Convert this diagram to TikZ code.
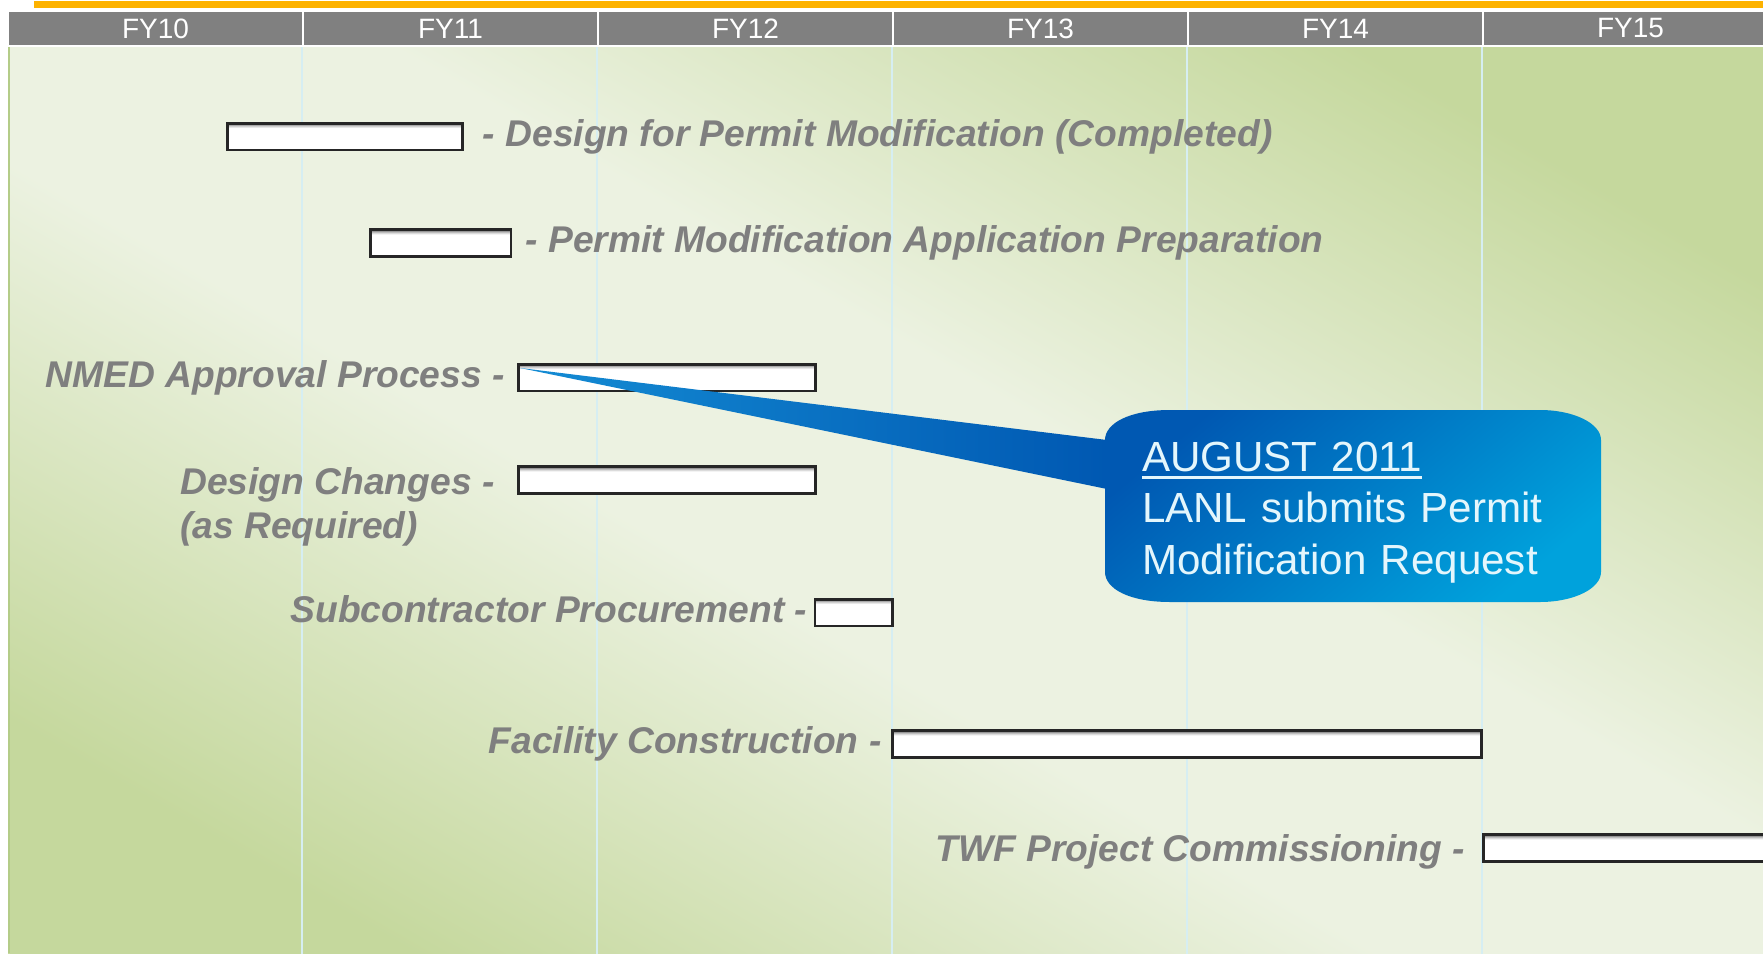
\documentclass[tikz,border=0pt]{standalone}
\usepackage{fontspec}
\setmainfont{Liberation Sans}
\usepackage{tikz}
\usetikzlibrary{positioning,calc}

\definecolor{hdrgray}{RGB}{128,128,128}
\definecolor{labgray}{RGB}{127,127,127}
\definecolor{bggreen}{RGB}{197,216,157}
\definecolor{bglight}{RGB}{236,242,225}
\definecolor{gridcyan}{RGB}{214,238,242}
\definecolor{edgegreen}{RGB}{180,204,136}
\definecolor{topbar}{RGB}{253,178,0}
\definecolor{notedark}{RGB}{0,88,178}
\definecolor{notelight}{RGB}{0,162,220}
\definecolor{tailtip}{RGB}{20,140,212}
\definecolor{notetext}{RGB}{228,246,252}

\pgfdeclareverticalshading{bgband}{100bp}{color(0bp)=(bggreen); color(24bp)=(bggreen);
  color(44bp)=(bglight); color(56bp)=(bglight); color(76bp)=(bggreen); color(100bp)=(bggreen)}
\pgfdeclareverticalshading{barfill}{100bp}{color(0bp)=(white); color(66bp)=(white);
  color(70bp)=(black!20); color(75bp)=(black!60); color(100bp)=(black!60)}

\newcommand{\thickul}[1]{\setbox0\hbox{#1}\rlap{\rule[-6pt]{\wd0}{2.5pt}}\box0}

\tikzset{
  hdrcell/.style={fill=hdrgray, draw=white, line width=1.5pt, text=white,
    font=\fontsize{21}{25}\selectfont, minimum width=221.25pt, minimum height=26.25pt, inner sep=0pt},
  gridline/.style={gridcyan, line width=1.5pt},
  taskbar/.style={shade, shading=barfill, draw=black!85, line width=1.9pt, minimum height=19.9pt, inner sep=0pt},
  tasklbl/.style={text=labgray, font=\bfseries\itshape\fontsize{27.9}{33.5}\selectfont, inner sep=0pt},
  notebody/.style={top color=notedark, bottom color=notelight, shading angle=40},
  notetxt/.style={text width=316.5pt, align=left, inner sep=0pt,
    text=notetext, font=\fontsize{31.6}{38.8}\selectfont}
}

\begin{document}
\begin{tikzpicture}[x=0.75pt,y=0.75pt,yscale=-1,xscale=1]
    \useasboundingbox (0,0) rectangle (1763,953);
    \fill [white] (0,0) rectangle (1763,953);

    %Background
    \shade [shading=bgband, shading angle=-30] (8,47) rectangle (1763,953);
    \draw [edgegreen, line width=1.5pt] (9,47) -- (9,953);
    \fill [topbar] (34,1) rectangle (1763,8);

    %Year header
    \foreach \yr [count=\i from 0] in {10,...,15}
        \node (fy\yr) [hdrcell] at (155.5+295*\i,28.5) {FY\yr};
    \foreach \yr in {11,...,15}
        \draw [gridline] (fy\yr.south west) -- ++(0,907);

    %Task bars
    \node (dsgn) [taskbar, minimum width=176.6pt] at (345,136.5) {};
    \node (prep) [taskbar, minimum width=105.4pt] at (440.5,243) {};
    \node (nmed) [taskbar, minimum width=223.1pt] at (667,377.5) {};
    \node (chng) [taskbar, minimum width=223.1pt] at (667,480) {};
    \node (subc) [taskbar, minimum width=58.1pt] at (853.5,612.5) {};
    \node (cons) [taskbar, minimum width=442.1pt] at (1187,744) {};
    \node (twf) [taskbar, minimum width=236.6pt] at (1641,848) {};

    % Text Node
    \node (dsgnlbl) [tasklbl, right=14pt of dsgn] {- Design for Permit Modification (Completed)};
    \node (preplbl) [tasklbl, right=10pt of prep] {- Permit Modification Application Preparation};
    \node (nmedlbl) [tasklbl, left=9pt of nmed] {NMED Approval Process -};
    \node (chnglbl) [tasklbl, align=left, anchor=north west] at (180,467) {Design Changes -\\(as Required)};
    \node (subclbl) [tasklbl, anchor=east] at ($(subc.west)+(-6,-3.5)$) {Subcontractor Procurement -};
    \node (conslbl) [tasklbl, left=7pt of cons] {Facility Construction -};
    \node (twflbl) [tasklbl, anchor=east] at ($(twf.west)+(-17,3.5)$) {TWF Project Commissioning -};

    %Callout: tail, body with flat corners, text
    \coordinate (augnw) at (1105,410);
    \shade [left color=tailtip, right color=notedark]
        ($(nmed.north west)+(3,5)$) -- ($(augnw)+(2,30)$) -- ($(augnw)+(2,79)$) -- cycle;
    \shade [notebody] (1105,440) .. controls (1105,423.4) and (1129.1,410) .. (1170,410)
        -- (1540,410) .. controls (1573.7,410) and (1601,423.4) .. (1601,440)
        -- (1601,572) .. controls (1601,588.6) and (1573.7,602) .. (1540,602)
        -- (1170,602) .. controls (1129.1,602) and (1105,588.6) .. (1105,572) -- cycle;
    \node (aug) [notetxt] at (1353,506) {\rule{0pt}{32pt}\thickul{AUGUST 2011}\\LANL submits Permit\\Modification Request};

\end{tikzpicture}
\end{document}
